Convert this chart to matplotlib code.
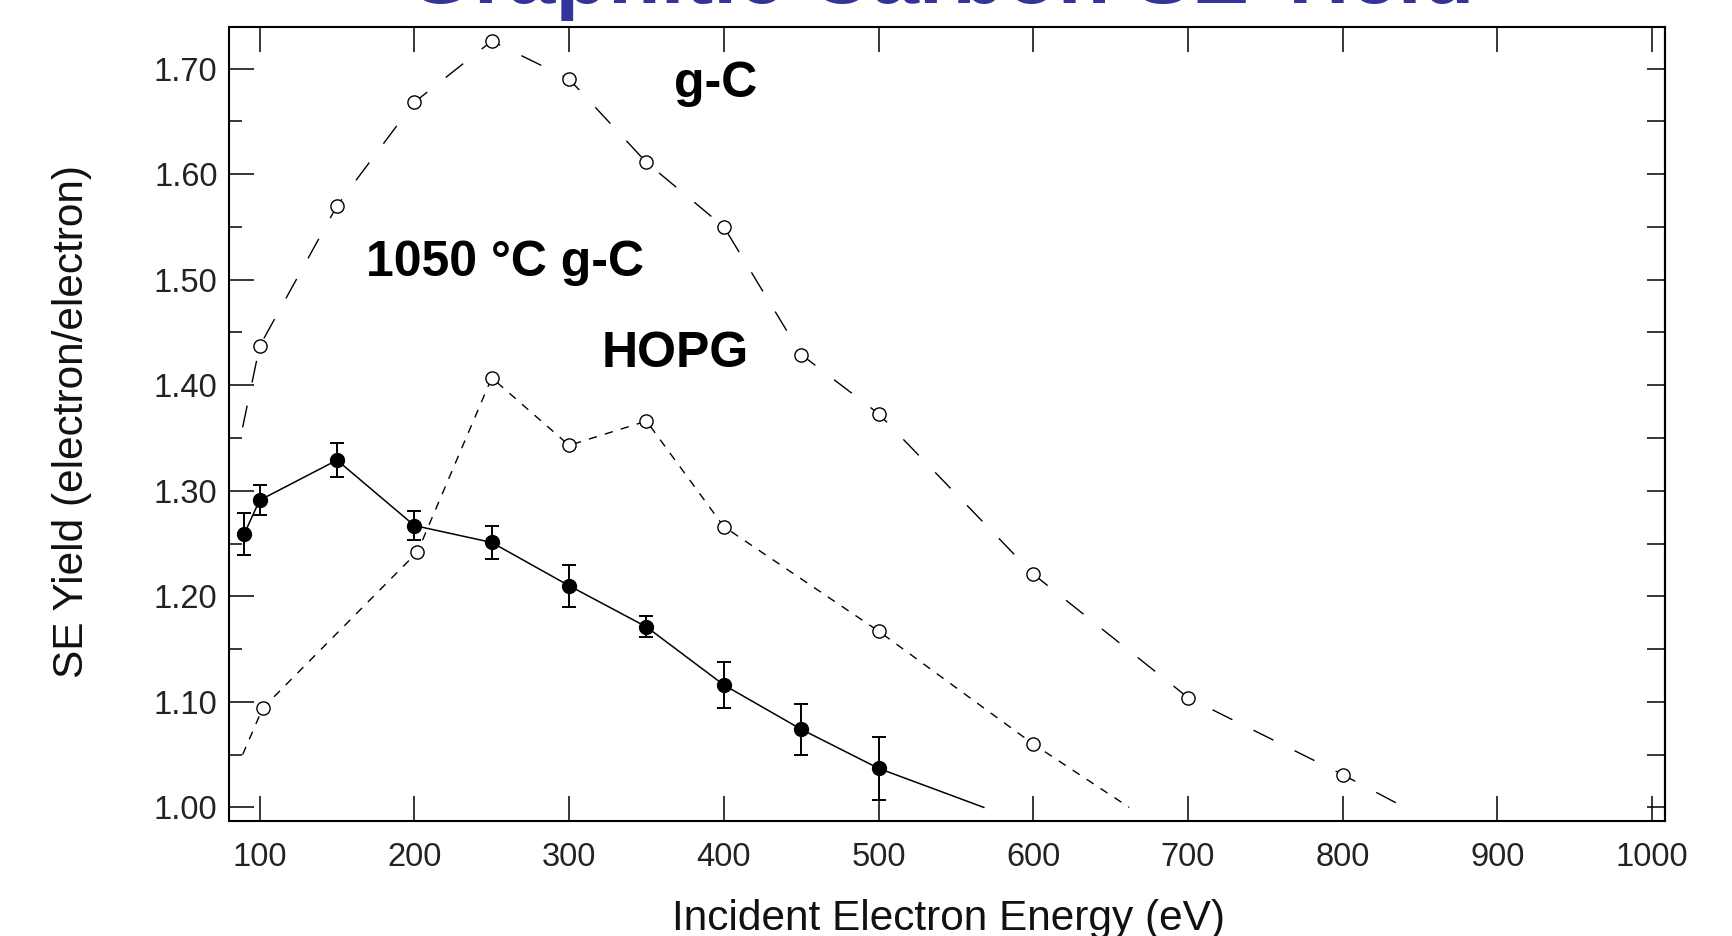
import matplotlib
matplotlib.use("Agg")
import matplotlib.pyplot as plt
from matplotlib.ticker import MultipleLocator, FixedLocator

plt.rcParams['font.family'] = ['Liberation Sans', 'DejaVu Sans']

# ---- data ----
# g-C (long dashed, open circles)
gc_x = [100, 150, 200, 250, 300, 350, 400, 450, 500, 600, 700, 800]
gc_y = [1.437, 1.570, 1.668, 1.726, 1.690, 1.611, 1.550, 1.429, 1.373, 1.221, 1.104, 1.031]
gc_line_x = [89, 100, 150, 200, 250, 300, 350, 400, 450, 500, 600, 700, 800, 840]
gc_line_y = [1.360, 1.437, 1.570, 1.668, 1.726, 1.690, 1.611, 1.550, 1.429, 1.373, 1.221, 1.104, 1.031, 1.000]

# HOPG (short dashed, open circles)
hopg_x = [102, 202, 250, 300, 350, 400, 500, 600]
hopg_y = [1.094, 1.242, 1.407, 1.343, 1.366, 1.266, 1.167, 1.060]
hopg_line_x = [89, 102, 202, 250, 300, 350, 400, 500, 600, 662]
hopg_line_y = [1.050, 1.094, 1.242, 1.407, 1.343, 1.366, 1.266, 1.167, 1.060, 1.000]

# 1050 C g-C (solid, filled circles, error bars)
c1050_x = [90, 100, 150, 200, 250, 300, 350, 400, 450, 500]
c1050_y = [1.259, 1.291, 1.329, 1.267, 1.251, 1.210, 1.171, 1.116, 1.074, 1.037]
c1050_err = [0.020, 0.014, 0.016, 0.014, 0.016, 0.020, 0.010, 0.022, 0.024, 0.030]
c1050_line_x = [90, 100, 150, 200, 250, 300, 350, 400, 450, 500, 568]
c1050_line_y = [1.259, 1.291, 1.329, 1.267, 1.251, 1.210, 1.171, 1.116, 1.074, 1.037, 1.000]

x_ticks = [100, 200, 300, 400, 500, 600, 700, 800, 900, 1000]
y_ticks = [1.00, 1.10, 1.20, 1.30, 1.40, 1.50, 1.60, 1.70]

title_text = "Graphitic Carbon SE Yield"
xlabel_text = "Incident Electron Energy (eV)"
ylabel_text = "SE Yield (electron/electron)"

# ---- figure ----
W, H = 1732, 936
fig = plt.figure(figsize=(W / 100, H / 100), dpi=100)
left, right, top, bottom = 228.7, 1664.6, 26.5, 820.7
ax = fig.add_axes([left / W, 1 - bottom / H, (right - left) / W, (bottom - top) / H])

ax.set_xlim(80, 1008)
ax.set_ylim(0.9874, 1.7398)

# lines
ax.plot(gc_line_x, gc_line_y, color='black', lw=1.0, dashes=(16, 17), zorder=2)
ax.plot(gc_x, gc_y, ls='none', marker='o', ms=9.5, mfc='white', mec='black', mew=1.0, zorder=3)

ax.plot(hopg_line_x, hopg_line_y, color='black', lw=1.0, dashes=(6, 6), zorder=2)
ax.plot(hopg_x, hopg_y, ls='none', marker='o', ms=9.5, mfc='white', mec='black', mew=1.0, zorder=3)

ax.plot(c1050_line_x, c1050_line_y, color='black', lw=1.1, zorder=2)
ax.errorbar(c1050_x, c1050_y, yerr=c1050_err, fmt='o', ms=10, mfc='black', mec='black',
            ecolor='black', elinewidth=1.4, capsize=5.3, capthick=1.4, zorder=4)

# annotations
ax.text(368, 1.673, "g-C", fontsize=36, fontweight='bold', ha='left', va='baseline')
ax.text(169, 1.503, "1050 \u00b0C g-C", fontsize=36, fontweight='bold', ha='left', va='baseline')
ax.text(321, 1.417, "HOPG", fontsize=36, fontweight='bold', ha='left', va='baseline')

# ticks
ax.xaxis.set_major_locator(FixedLocator(x_ticks))
ax.yaxis.set_major_locator(FixedLocator(y_ticks))
ax.yaxis.set_minor_locator(MultipleLocator(0.05))
ax.set_yticklabels([f"{v:.2f}" for v in y_ticks])
ax.set_xticklabels([str(v) for v in x_ticks])
ax.tick_params(axis='x', which='major', direction='in', length=18, width=1.1, top=True,
               bottom=True, labelsize=23.5, pad=15, colors='black', labelcolor='#222222')
ax.tick_params(axis='y', which='major', direction='in', length=18, width=1.1, left=True,
               right=False, labelsize=23.5, pad=8, colors='black', labelcolor='#222222')
ax.tick_params(axis='y', which='minor', direction='in', length=9, width=1.1, left=True, right=False)

# right-side ticks every 0.05
sec = ax.secondary_yaxis('right')
sec.yaxis.set_major_locator(MultipleLocator(0.05))
sec.tick_params(axis='y', direction='in', length=13, width=1.1, labelright=False)
sec.spines['right'].set_linewidth(1.5)

for s in ax.spines.values():
    s.set_linewidth(1.5)
    s.set_color('black')

# axis labels
fig.text(948 / W, 1 - 919 / H, xlabel_text, fontsize=30.5, ha='center', va='center', color='#111111')
fig.text(72 / W, 1 - 422 / H, ylabel_text, fontsize=30.5, rotation=90, ha='center', va='center',
         color='#111111')

# title (partially cut off at top, as in the reference)
fig.text(941 / W, 1 - 3 / H, title_text, fontsize=62, fontweight='bold', color='#333399',
         ha='center', va='baseline')

fig.savefig("out.png", dpi=100)
